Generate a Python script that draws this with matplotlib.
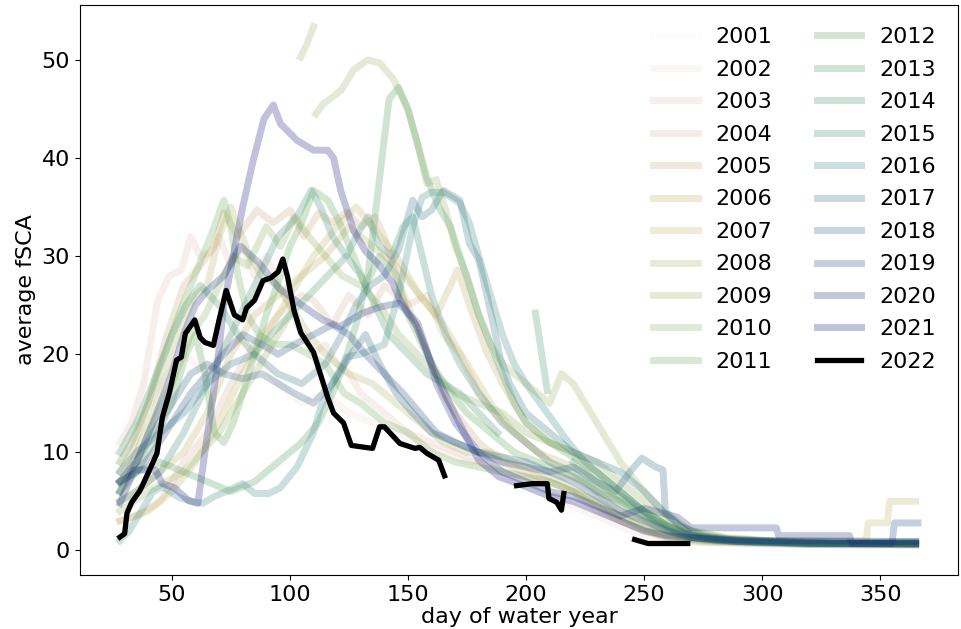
import numpy as np
import matplotlib.pyplot as plt

years = list(range(2001, 2023))

# (day of water year, average fSCA); None = gap
s2001 = [(28, 10), (40, 18), (55, 25), (70, 28), (90, 27), (110, 24), (130, 20), (150, 15),
         (170, 10), (190, 7), (210, 5), (230, 3), (250, 1.5), (270, 0.8), (365, 0.5)]
s2002 = [(28, 9), (35, 12), (45, 17), (55, 20), (65, 18), (75, 22), (85, 20), (95, 17), (105, 15),
         (115, 16), (125, 14), (135, 13), (145, 12), (155, 11), (165, 10), (175, 9), (185, 9.5),
         (195, 8), (205, 7), (215, 5), (225, 4), (235, 3), (245, 2), (255, 1.3), (265, 0.9),
         (300, 0.6), (365, 0.5)]
s2003 = [(28, 11), (33, 13), (38, 17), (44, 25.5), (49, 28), (54, 28.6), (58, 32), (62, 30),
         (66, 30.3), (70, 32), (75, 29), (80, 31), (85, 28), (90, 30), (95, 27), (100, 25), (105, 22),
         (110, 20), (115, 21), (120, 19), (125, 18), (130, 16), (140, 14), (150, 12), (160, 11),
         (170, 10), (180, 9), (190, 8), (200, 7.5), (210, 7), (220, 6), (230, 4), (240, 3), (250, 2),
         (260, 1.2), (275, 0.8), (320, 0.6), (365, 0.5)]
s2004 = [(28, 3), (35, 3.5), (45, 5), (55, 9), (65, 12), (75, 17), (85, 21), (95, 24), (105, 26),
         (110, 25.5), (118, 23), (125, 26), (133, 24), (140, 27), (150, 25), (158, 26), (165, 22),
         (172, 20), (180, 16), (190, 13), (200, 11), (210, 9), (220, 7.5), (230, 6), (240, 4),
         (250, 3), (260, 2), (270, 1.2), (290, 0.8), (365, 0.6)]
s2005 = [(28, 8), (33, 10), (40, 15), (48, 22), (55, 27), (62, 29), (68, 31), (72, 34.4), (78, 32),
         (86, 34.7), (93, 33.4), (100, 34.7), (106, 32), (112, 34.4), (118, 33.4), (124, 34.5),
         (130, 33), (136, 34), (140, 32), (145, 28), (150, 25), (155, 22), (160, 19), (165, 16),
         (170, 14), (180, 11), (190, 9), (200, 8), (210, 7), (220, 6), (230, 4.5), (240, 3), (250, 2),
         (260, 1.3), (275, 0.9), (300, 0.7), (365, 0.6)]
s2006 = [(28, 5), (35, 6), (45, 8), (55, 10), (65, 14), (75, 20), (85, 24), (95, 26), (105, 28),
         (115, 30), (125, 33), (135, 31), (145, 29), (155, 26), (162, 24), (168, 27), (171, 28.6),
         (176, 25), (183, 20.4), (190, 17), (200, 13), (210, 11), (220, 10), (230, 8), (240, 6),
         (250, 4), (260, 2.5), (270, 1.5), (285, 1), (320, 0.7), (365, 0.6)]
s2007 = [(28, 3), (40, 4), (50, 6), (60, 9), (70, 13), (80, 18), (90, 22), (100, 26), (110, 30),
         (120, 33), (128, 35), (135, 33), (145, 30), (155, 26), (165, 23), (175, 19), (185, 15),
         (195, 12), (205, 10), (215, 9), (225, 8), (235, 6), (245, 4.5), (255, 3), (265, 2),
         (280, 1.3), (300, 1), (330, 0.9), (344, 1), (345, 2.8), (353, 2.8), (354, 5), (365, 5)]
s2008 = [(28, 6), (35, 10), (42, 14), (50, 20), (56, 24), (60, 26), (65, 27), (70, 32), (75, 35),
         (78, 33), (83, 30), (88, 28), (95, 27), (100, 25), (108, 22), (115, 20), (125, 18), (135, 17),
         (145, 15), (155, 13), (165, 11), (175, 10), (185, 10), (195, 9), (205, 8), (215, 7),
         (225, 5.5), (235, 4), (245, 3), (255, 2), (265, 1.4), (280, 0.9), (365, 0.6)]
s2009 = [(28, 4), (40, 6), (55, 8), (70, 12), (85, 18), (100, 24), (102, None), (104.5, 50.3),
         (107, 51.5), (110, 53.4), (110.5, None), (111, 44.5), (114, 45.5), (118, 46.2), (122, 47),
         (127, 49), (133, 50), (138, 49.7), (144, 48), (150, 44.9), (154, 41.5), (158, 37.4),
         (162, 37.8), (166, 34.7), (170, 31), (175, 28), (180, 24), (185, 21), (190, 19), (200, 17),
         (210, 15), (215, 18), (220, 17), (230, 13), (240, 9), (250, 6), (260, 3.5), (270, 2),
         (285, 1.2), (310, 0.8), (365, 0.7)]
s2010 = [(28, 7), (35, 9), (42, 13), (50, 17), (58, 22), (64, 24), (70, 27), (76, 30), (82, 29),
         (90, 33), (96, 31), (102, 34), (108, 32), (115, 30), (122, 28), (130, 27), (138, 25),
         (146, 22), (154, 20), (162, 18), (170, 16), (180, 15), (190, 14), (200, 12), (210, 11),
         (220, 10), (230, 9), (240, 7), (250, 5), (260, 3), (270, 2), (285, 1.3), (310, 0.9), (365, 0.8)]
s2011 = [(28, 9), (33, 11), (40, 15), (47, 20), (53, 24), (58, 27), (63, 30), (68, 33), (72, 35.7),
         (75, 33), (78, 28), (82, 24), (87, 22), (93, 21), (100, 21), (108, 20), (115, 19), (123, 16),
         (130, 15), (140, 13), (150, 12), (160, 10), (170, 9), (180, 8.5), (190, 8), (200, 7.5),
         (210, 7), (220, 6), (230, 5), (240, 3.5), (250, 2.2), (260, 1.4), (275, 1), (300, 0.8), (365, 0.7)]
s2012 = [(28, 6), (35, 8), (42, 11), (50, 15), (56, 20), (60, 22), (64, 18), (68, 12), (72, 11),
         (76, 13), (80, 16), (85, 20), (90, 24), (96, 28), (100, 31), (105, 33.4), (110, 36.7),
         (116, 35.7), (121, 33.4), (127, 30), (132, 27), (138, 30), (145, 28), (150, 24), (158, 20),
         (165, 17), (175, 14), (185, 12), (195, 10), (205, 9), (215, 8), (225, 7), (235, 5.5),
         (245, 4), (255, 2.5), (265, 1.5), (280, 1), (310, 0.8), (365, 0.6)]
s2013 = [(28, 7), (35, 8), (45, 9), (55, 8), (65, 7), (75, 6), (85, 7), (95, 9), (105, 11), (112, 13),
         (118, 16), (123, 19), (128, 23), (133, 28), (138, 38), (142, 46), (146, 47.2), (150, 45),
         (154, 41.5), (158, 38), (163, 35), (168, 33), (172, 30), (176, 27), (180, 24), (185, 21),
         (190, 18), (195, 15), (200, 13), (210, 11), (220, 9.5), (230, 8), (240, 6), (250, 4),
         (260, 2.5), (270, 1.5), (285, 1), (320, 0.7), (365, 0.8)]
s2014 = [(28, 10), (35, 13), (42, 17), (50, 22), (56, 25), (62, 27), (70, 25), (78, 22), (85, 20),
         (92, 22), (100, 24), (108, 26), (116, 28), (124, 30), (130, 28), (136, 25), (142, 22),
         (150, 20), (158, 18), (165, 17), (172, 16), (180, 14), (188, 12), (195, None), (204, 24.2),
         (209, 16.3), (210, None), (220, 9), (230, 7), (240, 5.5), (250, 4), (260, 2.5), (270, 1.5),
         (285, 1.1), (330, 0.7), (365, 0.9)]
s2015 = [(28, 5), (35, 6), (45, 8), (55, 12), (65, 17), (75, 22), (85, 27), (95, 32), (103, 34),
         (109, 36.7), (113, 35), (118, 32), (124, 30), (128, 32), (133, 34), (138, 31), (143, 30),
         (148, 33), (152, 34), (156, 30), (160, 26), (166, 22), (172, 19), (180, 16), (190, 13),
         (200, 11), (210, 9), (220, 8), (230, 6), (240, 5), (250, 3.5), (260, 2.2), (270, 1.3),
         (290, 0.9), (365, 0.7)]
s2016 = [(28, 1), (32, 2), (37, 4), (42, 6), (46, 6.5), (53, 5.4), (58, 5), (63, 4.8), (68, 5.5),
         (74, 6.1), (80, 6.8), (85, 5.8), (91, 5.8), (96, 6.4), (103, 8.5), (110, 12), (113, 14.6),
         (118, 17), (124, 19.7), (130, 20), (137, 20.7), (140, 21), (146, 26), (152, 33), (156, 36),
         (160, 36.5), (165, 36.5), (172, 35.4), (176, 33.4), (180, 30), (185, 26), (190, 22),
         (195, 19), (200, 17), (206, 15), (212, 13), (218, 11), (225, 9), (235, 7), (245, 5),
         (255, 3), (265, 1.8), (280, 1), (320, 0.6), (365, 0.7)]
s2017 = [(28, 8), (35, 10), (45, 12), (55, 14), (65, 17), (75, 19), (85, 20), (95, 18), (105, 17),
         (115, 19), (122, 22), (128, 25), (134, 27), (140, 28), (146, 30.6), (152, 35.7), (156, 34),
         (160, 34.7), (165, 36.7), (172, 35.7), (176, 31.3), (180, 29.6), (183, 26.5), (186, 23.2),
         (189, 19.7), (193, 17), (200, 14), (210, 12), (220, 10), (230, 9), (240, 8), (250, 6),
         (260, 3.5), (270, 1.6), (285, 1), (320, 0.7), (365, 0.6)]
s2018 = [(28, 6), (35, 9), (42, 12), (50, 15), (58, 18), (65, 19), (72, 18), (80, 17.5), (88, 18),
         (95, 17), (102, 16), (110, 15), (118, 17), (126, 20), (132, 22), (138, 19), (145, 16),
         (152, 14), (160, 12), (170, 11), (180, 10), (190, 9.5), (200, 9), (210, 8), (220, 8.5),
         (230, 7), (238, 6), (244, 8), (249, 9.4), (255, 8.5), (258, 8.2), (259, 4), (265, 2.5),
         (275, 1.5), (290, 1), (330, 0.7), (365, 0.7)]
s2019 = [(28, 7), (35, 8), (42, 10), (50, 13), (58, 16), (65, 18), (72, 20), (80, 22), (88, 21),
         (95, 20), (102, 21), (110, 22), (118, 23), (125, 22), (132, 20), (140, 18), (148, 16),
         (155, 14), (162, 12), (170, 11), (180, 10), (190, 9), (200, 8.5), (210, 8), (220, 7),
         (230, 5.5), (240, 4), (250, 3), (260, 2), (270, 1.3), (290, 0.9), (320, 0.7), (355, 0.7),
         (356, 2.8), (366, 2.8)]
s2020 = [(28, 7), (35, 9), (42, 13), (50, 18), (55, 22), (60, 25), (65, 26.5), (72, 28), (79, 31),
         (87, 29.3), (95, 26.8), (105, 25), (114, 23.5), (121, 22.8), (131, 24.2), (138, 24.8),
         (146, 25.2), (154, 23.2), (158, 20.4), (162, 17), (170, 13), (180, 10), (190, 8), (200, 7),
         (210, 6), (220, 5.5), (230, 4.5), (240, 3.5), (250, 4.3), (264, 3.4), (270, 2.3), (306, 2.3),
         (307, 1.5), (337, 1.5), (338, 0.7), (365, 0.7)]
s2021 = [(28, 4.8), (34, 8.2), (43, 8.2), (46, 6.8), (51, 6.4), (57, 5.1), (61, 4.8), (64, 10),
         (67, 15), (69, 18.4), (72, 25), (76, 30), (80, 35), (84.5, 39.8), (89, 44), (93, 45.4),
         (96, 43.5), (103, 41.8), (110, 40.8), (116, 40.8), (118.5, 40), (121.5, 36.7), (127, 32.6),
         (132, 30.5), (137, 29.3), (143.7, 27.2), (146.6, 25.5), (153.8, 22.8), (160.5, 18.7),
         (167.6, 15), (174.8, 11.5), (180, 9.2), (188.6, 7.5), (200, 6.5), (210, 5.5), (220, 5),
         (230, 4), (240, 3), (250, 2), (260, 1.5), (275, 1.2), (300, 1), (365, 0.9)]
s2022 = [(28, 1.35), (30, 1.7), (31, 3.8), (33, 4.9), (36.5, 6.1), (40, 7.9), (43.7, 9.9), (46, 13.6),
         (49, 16.1), (52, 19.4), (54, 19.7), (55.7, 22.1), (59.7, 23.5), (62, 21.7), (64, 21.2),
         (67.6, 20.9), (70, 23.5), (73, 26.5), (76.5, 24), (80, 23.5), (81.6, 24.7), (85, 25.5),
         (88.6, 27.5), (92, 27.8), (95, 28.4), (97, 29.7), (99, 27.9), (101.7, 24.5), (104.6, 22.2),
         (110, 20.2), (116, 15.6), (118.5, 14), (122.7, 13), (126, 10.7), (135, 10.4), (138, 12.6),
         (140, 12.6), (146.6, 10.9), (153, 10.4), (155, 10.5), (158, 9.9), (163, 9.2), (165.5, 7.6),
         (167, None), (196, 6.6), (202.5, 6.8), (209, 6.8), (209.7, 5.3), (213, 4.9), (215, 4.1),
         (216, 5.8), (217, None), (246, 1.1), (251.7, 0.7), (268.5, 0.7)]

series = [s2001, s2002, s2003, s2004, s2005, s2006, s2007, s2008, s2009, s2010, s2011,
          s2012, s2013, s2014, s2015, s2016, s2017, s2018, s2019, s2020, s2021, s2022]

colors = plt.cm.gist_earth_r(np.linspace(0, 1, len(years)))

fig = plt.figure(figsize=(9.61, 6.29), dpi=100)
ax = fig.add_axes([0.083, 0.086, 0.914, 0.906])

for i, (yr, s) in enumerate(zip(years, series)):
    arr = np.array(s, dtype=float)
    if yr == 2022:
        ax.plot(arr[:, 0], arr[:, 1], color='black', lw=3.8, label=str(yr))
    else:
        ax.plot(arr[:, 0], arr[:, 1], color=colors[i], lw=5, alpha=0.25, label=str(yr))

ax.set_xlim(11, 383)
ax.set_ylim(-2.5, 55.6)
ax.set_xlabel('day of water year', fontsize=16, labelpad=2)
ax.set_ylabel('average fSCA', fontsize=16)
ax.tick_params(labelsize=16)
ax.legend(ncol=2, frameon=False, fontsize=16, loc='upper right',
          labelspacing=0.56, borderaxespad=0.6)

fig.savefig('out.png', dpi=100)
